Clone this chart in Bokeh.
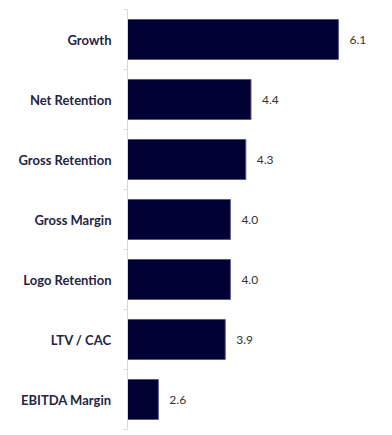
from bokeh.plotting import figure
from bokeh.models import ColumnDataSource, FixedTicker, Range1d, LabelSet
from bokeh.core.properties import value
from bokeh.embed import file_html
from bokeh.resources import INLINE

categories = ["Growth", "Net Retention", "Gross Retention", "Gross Margin",
              "Logo Retention", "LTV / CAC", "EBITDA Margin"]
values = [6.1, 4.4, 4.3, 4.0, 4.0, 3.9, 2.6]

n = len(categories)
ypos = [n - i - 0.5 for i in range(n)]
labels = [f"{v:.1f}" for v in values]

src = ColumnDataSource(dict(y=ypos, v=values, lab=labels, cat=categories))

p = figure(width=385, height=433, output_backend="svg", toolbar_location=None,
           x_range=Range1d(2.0, 6.82), y_range=Range1d(0, n),
           min_border_left=127, min_border_right=10, min_border_top=9, min_border_bottom=4,
           outline_line_color=None)
p.xaxis.visible = False
p.xgrid.visible = False
p.ygrid.visible = False

p.hbar(y="y", left=2.0, right="v", height=0.667, source=src,
       fill_color="#000033", line_color="#5c5c8c", line_width=1)

ax = p.yaxis[0]
ax.ticker = FixedTicker(ticks=ypos, minor_ticks=list(range(n + 1)))
ax.major_label_overrides = {y: c for y, c in zip(ypos, categories)}
ax.major_tick_line_color = None
ax.minor_tick_line_color = "#d9d9d9"
ax.minor_tick_out = 4
ax.minor_tick_in = 0
ax.axis_line_color = "#d9d9d9"
ax.major_label_standoff = 10
ax.major_label_text_font = "Lato"
ax.major_label_text_font_style = "bold"
ax.major_label_text_font_size = "13px"
ax.major_label_text_color = "#1f2545"

p.add_layout(LabelSet(x="v", y="y", text="lab", source=src, x_offset=11, y_offset=0,
                      text_baseline="middle", text_font=value("Lato"), text_font_size="12px",
                      text_color="#333333"))

open("out.html", "w").write(file_html(p, INLINE))
